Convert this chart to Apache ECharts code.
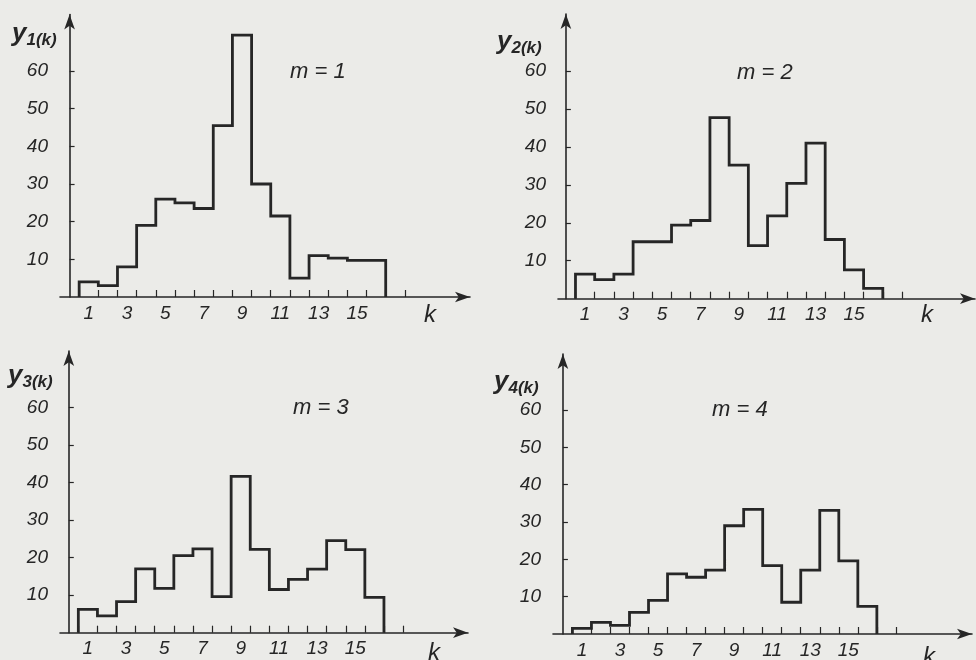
<!DOCTYPE html>
<html>
<head>
<meta charset="utf-8">
<script src="https://cdn.jsdelivr.net/npm/echarts@6/dist/echarts.min.js"></script>
<style>
  html, body { margin: 0; padding: 0; background: #ebebe8; }
  #chart { width: 976px; height: 660px; }
</style>
</head>
<body>
<div id="chart"></div>
<script>
// k = 1..16
const kValues = [1, 2, 3, 4, 5, 6, 7, 8, 9, 10, 11, 12, 13, 14, 15, 16];
const y1 = [4, 3, 8, 19, 26, 25, 23.5, 45.5, 69.5, 30, 21.5, 5, 11, 10.3, 9.7, 9.7];
const y2 = [6.5, 5, 6.5, 15, 15, 19.4, 20.6, 47.7, 35.2, 14, 21.8, 30.4, 41, 15.6, 7.6, 2.7];
const y3 = [6.2, 4.5, 8.3, 17, 11.8, 20.5, 22.3, 9.6, 41.6, 22.2, 11.5, 14.2, 16.9, 24.5, 22.1, 9.4];
const y4 = [1.5, 3.1, 2.3, 5.8, 9, 16.1, 15.2, 17.1, 29, 33.4, 18.3, 8.5, 17.1, 33.1, 19.6, 7.4];
const series = [y1, y2, y3, y4];
const mLabels = ['m = 1', 'm = 2', 'm = 3', 'm = 4'];
const yTicks = [10, 20, 30, 40, 50, 60];
const xLabelVals = [1, 3, 5, 7, 9, 11, 13, 15];
const binEdges = [0.5, 1.5, 2.5, 3.5, 4.5, 5.5, 6.5, 7.5, 8.5, 9.5, 10.5, 11.5, 12.5, 13.5, 14.5, 15.5, 16.5, 17.5];

const ink = '#262626';
const font = 'Liberation Sans';

// panel placement
const panels = [
  { left: 60, top: 14.5, width: 410, height: 282.5, xmin: -0.5, xmax: 20.9, m: [290, 61], y: [12, 18], k: [424, 303] },
  { left: 558, top: 14, width: 417, height: 284.7, xmin: -0.41, xmax: 21.3, m: [737, 62], y: [497, 26], k: [921, 303] },
  { left: 60, top: 351, width: 408, height: 281.7, xmin: -0.46, xmax: 20.9, m: [293, 397], y: [8, 360], k: [428, 641] },
  { left: 553, top: 354, width: 419, height: 282, xmin: -0.52, xmax: 21.5, m: [712, 399], y: [494, 366], k: [923, 645] }
];

function stairs(vals) {
  const pts = [[kValues[0] - 0.5, 0]];
  kValues.forEach((k, j) => {
    pts.push([k - 0.5, vals[j]]);
    pts.push([k + 0.5, vals[j]]);
  });
  pts.push([kValues[kValues.length - 1] + 0.5, 0]);
  return pts;
}

const chart = echarts.init(document.getElementById('chart'));

const grid = [], xAxis = [], yAxis = [], seriesOpts = [], title = [];
panels.forEach((p, i) => {
  grid.push({ left: p.left, top: p.top, width: p.width, height: p.height });
  xAxis.push({
    type: 'value', gridIndex: i, min: p.xmin, max: p.xmax,
    splitLine: { show: false },
    axisLine: { lineStyle: { color: ink, width: 1.6 }, symbol: ['none', 'arrow'], symbolSize: [8, 15] },
    axisTick: { inside: true, length: 7, lineStyle: { color: ink, width: 1.2 }, customValues: binEdges },
    axisLabel: { customValues: xLabelVals, color: ink, fontFamily: font, fontStyle: 'italic', fontSize: 19, margin: 7 }
  });
  yAxis.push({
    type: 'value', gridIndex: i, min: 0, max: 75,
    splitLine: { show: false },
    axisLine: { show: true, lineStyle: { color: ink, width: 1.6 }, symbol: ['none', 'arrow'], symbolSize: [8, 15] },
    axisTick: { show: true, inside: true, length: 5, lineStyle: { color: ink, width: 1.2 }, customValues: yTicks },
    axisLabel: { customValues: yTicks, color: ink, fontFamily: font, fontStyle: 'italic', fontSize: 19, margin: 12 }
  });
  seriesOpts.push({
    type: 'line', xAxisIndex: i, yAxisIndex: i, data: stairs(series[i]),
    symbol: 'none', lineStyle: { color: ink, width: 2.8, join: 'miter' }, silent: true
  });
  title.push({
    text: mLabels[i], left: p.m[0], top: p.m[1], padding: 0,
    textStyle: { color: ink, fontFamily: font, fontStyle: 'italic', fontWeight: 'normal', fontSize: 22 }
  });
  title.push({
    text: '{a|y}{b|' + (i + 1) + '(k)}', left: p.y[0], top: p.y[1], padding: 0,
    textStyle: {
      rich: {
        a: { color: ink, fontFamily: font, fontStyle: 'italic', fontSize: 26 },
        b: { color: ink, fontFamily: font, fontStyle: 'italic', fontSize: 17, padding: [14, 0, 0, 0] }
      }
    }
  });
  title.push({
    text: 'k', left: p.k[0], top: p.k[1], padding: 0,
    textStyle: { color: ink, fontFamily: font, fontStyle: 'italic', fontWeight: 'normal', fontSize: 24 }
  });
});

chart.setOption({
  backgroundColor: '#ebebe8',
  animation: false,
  title, grid, xAxis, yAxis, series: seriesOpts
});
</script>
</body>
</html>
